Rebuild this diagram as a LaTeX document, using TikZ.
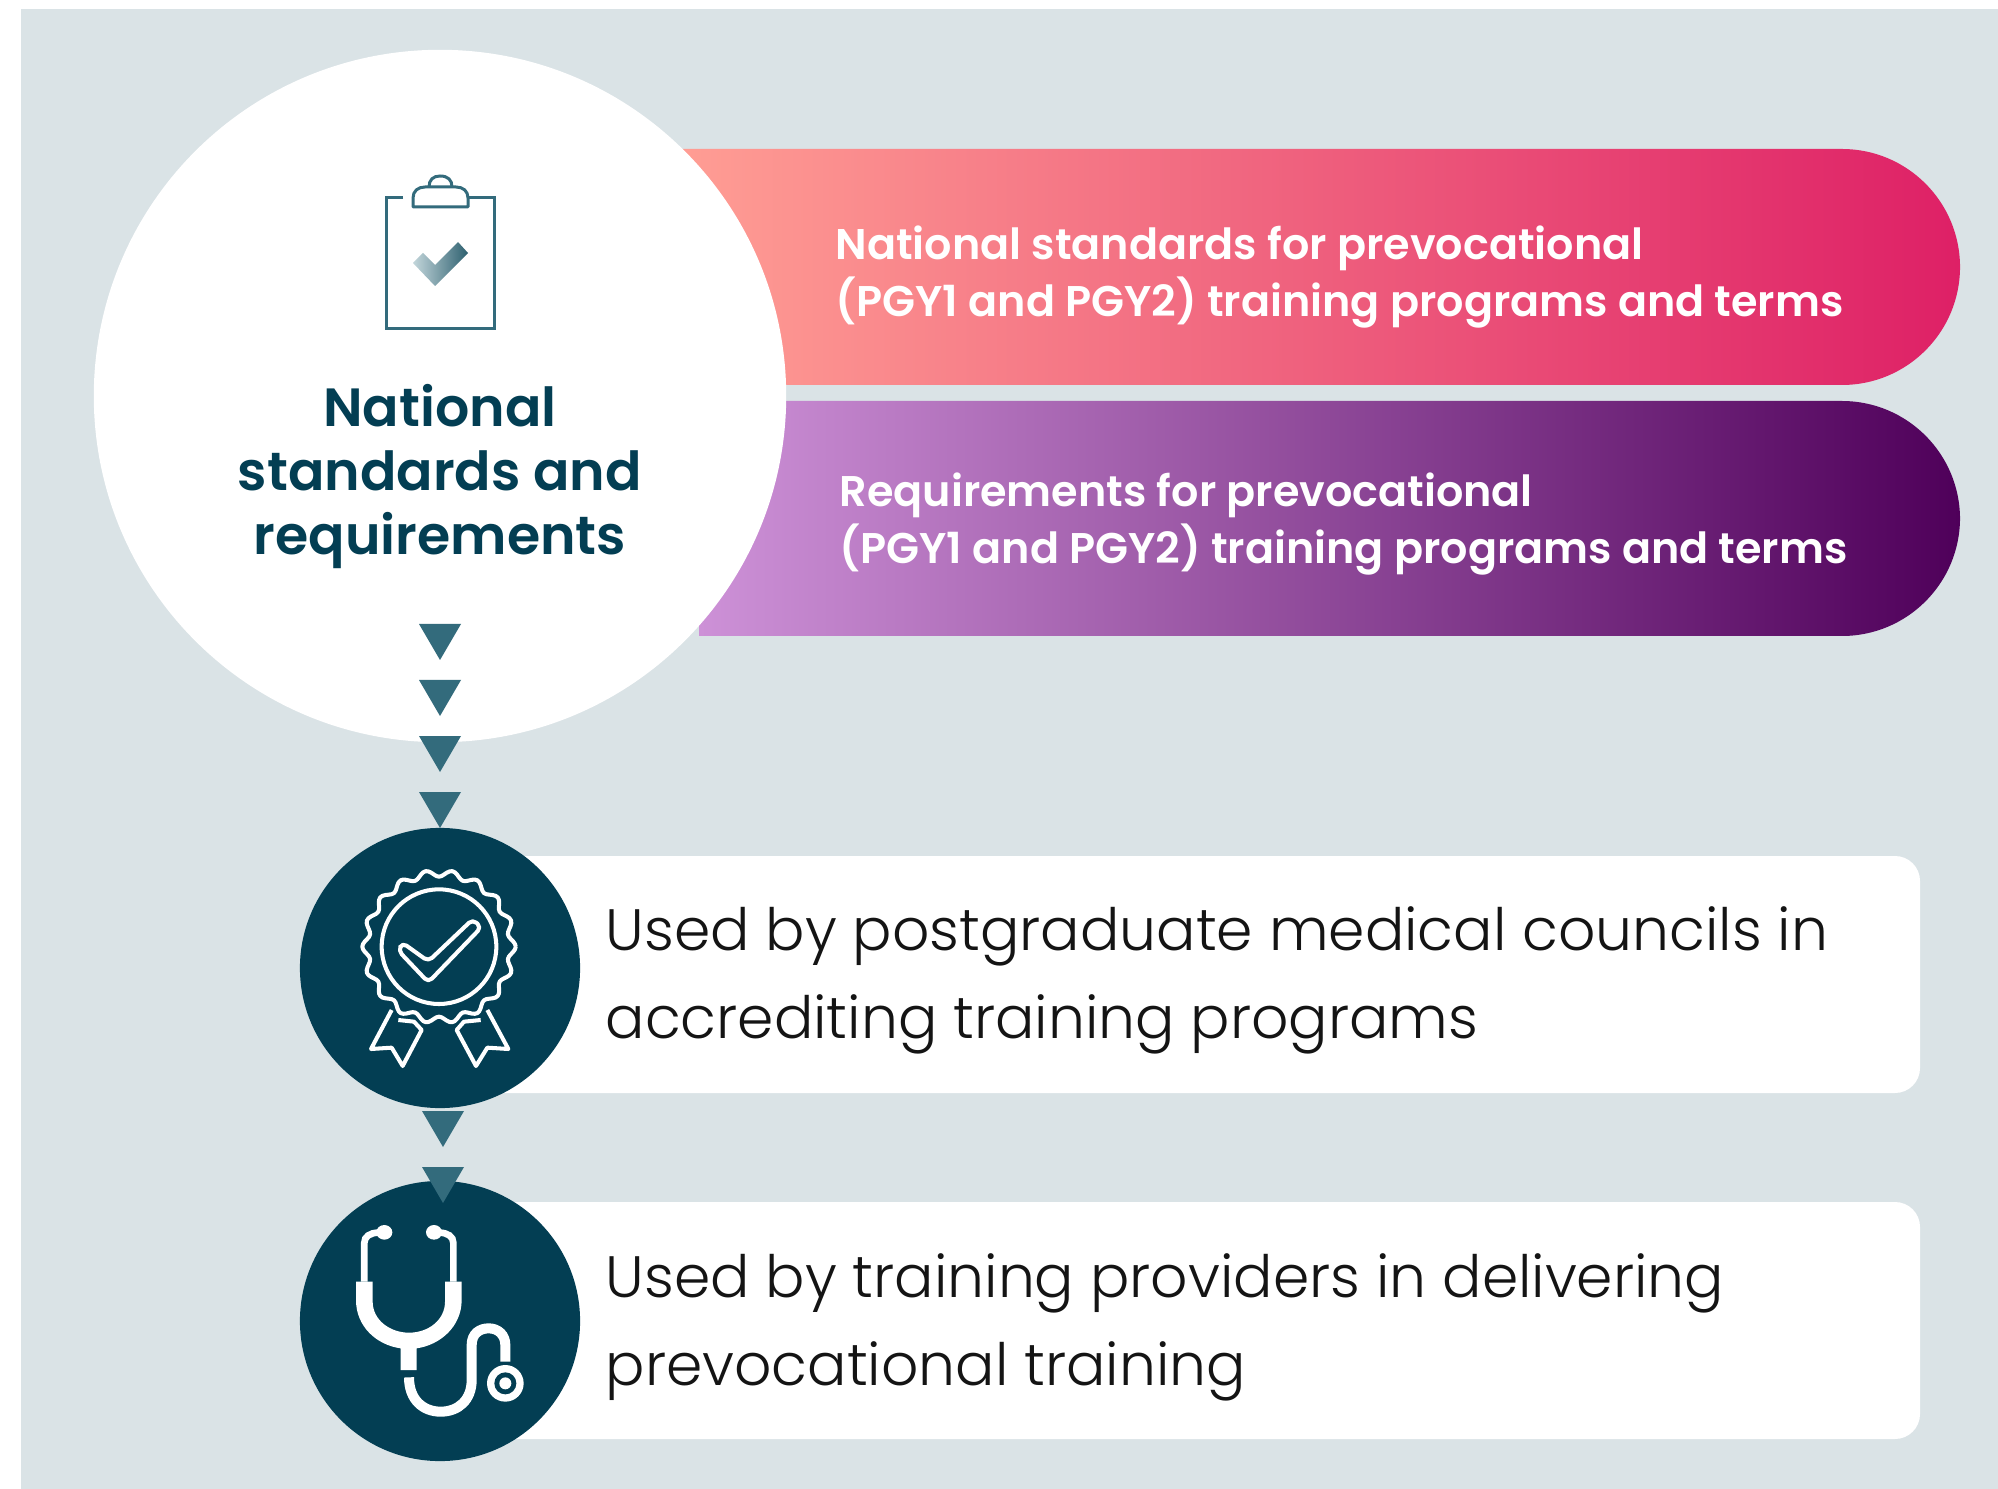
\documentclass[tikz,border=0pt]{standalone}
\usepackage{fontspec}
\setmainfont{Poppins}[UprightFont=* Light,BoldFont=* SemiBold]
\definecolor{panelgrey}{HTML}{DAE3E6}
\definecolor{navy}{HTML}{033E53}
\definecolor{teal}{HTML}{336B7C}
\definecolor{inkblack}{HTML}{141414}
\definecolor{pinkleft}{RGB}{255,158,148}
\definecolor{pinkmid}{RGB}{241,104,134}
\definecolor{pinkright}{RGB}{222,32,102}
\definecolor{purpleleft}{RGB}{205,145,215}
\definecolor{purplemid}{RGB}{143,74,148}
\definecolor{purpleright}{RGB}{79,0,90}
\definecolor{checkleft}{RGB}{195,214,219}
\tikzset{
  bigdisk/.style={circle,fill=white,minimum size=6.92cm,inner sep=0pt},
  navydisk/.style={circle,fill=navy,minimum size=2.80cm,inner sep=0pt},
  headtext/.style={text=navy,align=center,font=\bfseries\fontsize{15.3}{18.2}\selectfont},
  bartext/.style={anchor=west,text=white,align=left,inner sep=0pt,font=\bfseries\fontsize{12.2}{16}\selectfont},
  usetext/.style={anchor=west,text=inkblack,align=left,inner sep=0pt,font=\fontsize{16.6}{25}\selectfont},
  iconline/.style={draw=white,line width=1.15pt,line join=round},
}
\begin{document}
\begin{tikzpicture}[x=0.01cm,y=-0.01cm]
\useasboundingbox (0,0) rectangle (1998,1489);
\fill[panelgrey] (21,9) rectangle (1998,1489); % panel
% bars
\shade[left color=pinkleft,middle color=pinkmid,right color=pinkright]
  (675,149) [rounded corners=1.18cm] -- (1960,149) -- (1960,385) [sharp corners] -- (675,385) -- cycle;
\shade[left color=purpleleft,middle color=purplemid,right color=purpleright]
  (699,401) [rounded corners=1.18cm] -- (1960,401) -- (1960,636) [sharp corners] -- (699,636) -- cycle;
\node[bartext] (pinktext) at (835,277) {National standards for prevocational\\(PGY1 and PGY2) training programs and terms};
\node[bartext] (purpletext) at (839,524) {Requirements for prevocational\\(PGY1 and PGY2) training programs and terms};
% white boxes
\fill[white,rounded corners=0.25cm] (440,856) rectangle (1920,1093);
\fill[white,rounded corners=0.25cm] (440,1202) rectangle (1920,1439);
\node[usetext] (usedone) at (605,980) {Used by postgraduate medical councils in\\accrediting training programs};
\node[usetext] (usedtwo) at (605,1327) {Used by training providers in delivering\\prevocational training};
% circles
\node[bigdisk] (standards) at (440,396) {};
\node[navydisk] (councils) at (440,968) {};
\node[navydisk] (providers) at (440,1321) {};
\node[headtext] (heading) at (440,477) {National\\standards and\\requirements};
% triangles
\foreach \y in {624,680,736,792}
  \fill[teal] (419,\y) -- (461,\y) -- (440,\y+36) -- cycle;
\foreach \y in {1111,1167}
  \fill[teal] (422,\y) -- (464,\y) -- (443,\y+36) -- cycle;
% clipboard
\draw[teal,line width=0.85pt] (403,198) -- (386,198) -- (386,329) -- (494,329) -- (494,198) -- (468,198);
\draw[teal,line width=0.85pt,line join=round] (413,207) -- (413,198) .. controls (413,191) and (418,187) .. (425,187) -- (456,187) .. controls (463,187) and (468,191) .. (468,198) -- (468,207) -- cycle;
\draw[teal,line width=0.85pt] (429,187) .. controls (429,180) and (433,176) .. (440,176) .. controls (448,176) and (452,180) .. (452,187);
\shade[left color=checkleft,right color=teal!90!black]
  (413,263) -- (423,253) -- (435,265) -- (458,242) -- (468,253) -- (435,286) -- cycle;
% badge
\begin{scope}[shift={(290,820)},x=0.01cm/3,y=-0.01cm/3]
\draw[iconline] plot[domain=0:360,samples=181,smooth] ({447+(220+10*cos(18*\x))*cos(\x)},{380+(220+10*cos(18*\x))*sin(\x)});
\draw[iconline] (447,380) circle [radius=172];
\draw[iconline,rounded corners=0.05cm] (337,368) -- (415,424) -- (548,298) -- (574,322) -- (415,487) -- (325,392) -- cycle;
\draw[iconline] (305,570) -- (243,687) -- (305,683) -- (338,738) -- (395,630) -- (372,605) -- (325,600);
\draw[iconline] (592,570) -- (655,687) -- (592,683) -- (558,738) -- (500,630) -- (522,605) -- (572,600);
\end{scope}
% stethoscope
\begin{scope}[shift={(290,1170)},x=0.01cm/3,y=-0.01cm/3]
\fill[white] (198,335) -- (198,390) .. controls (198,470) and (260,525) .. (332,535) -- (332,600) -- (380,600) -- (380,535) .. controls (450,525) and (515,470) .. (515,390) -- (515,335) -- (465,335) -- (465,395) .. controls (465,450) and (415,488) .. (357,488) .. controls (300,488) and (248,450) .. (248,395) -- (248,335) -- cycle;
\draw[white,line width=1.9pt] (223,335) -- (223,218) .. controls (223,200) and (240,188) .. (265,188);
\draw[white,line width=1.9pt] (490,335) -- (490,218) .. controls (490,200) and (473,188) .. (448,188);
\fill[white] (283,187) ellipse [x radius=24,y radius=22];
\fill[white] (432,187) ellipse [x radius=24,y radius=22];
\draw[white,line width=2.85pt] (357,622) .. controls (357,690) and (400,725) .. (452,725) .. controls (505,725) and (545,690) .. (545,630) -- (545,525) .. controls (545,490) and (570,475) .. (596,475) .. controls (625,475) and (646,495) .. (646,525) -- (646,575);
\fill[white] (646,640) circle [radius=55];
\fill[navy] (646,640) circle [radius=33];
\fill[white] (646,640) circle [radius=18];
\end{scope}
\end{tikzpicture}
\end{document}
